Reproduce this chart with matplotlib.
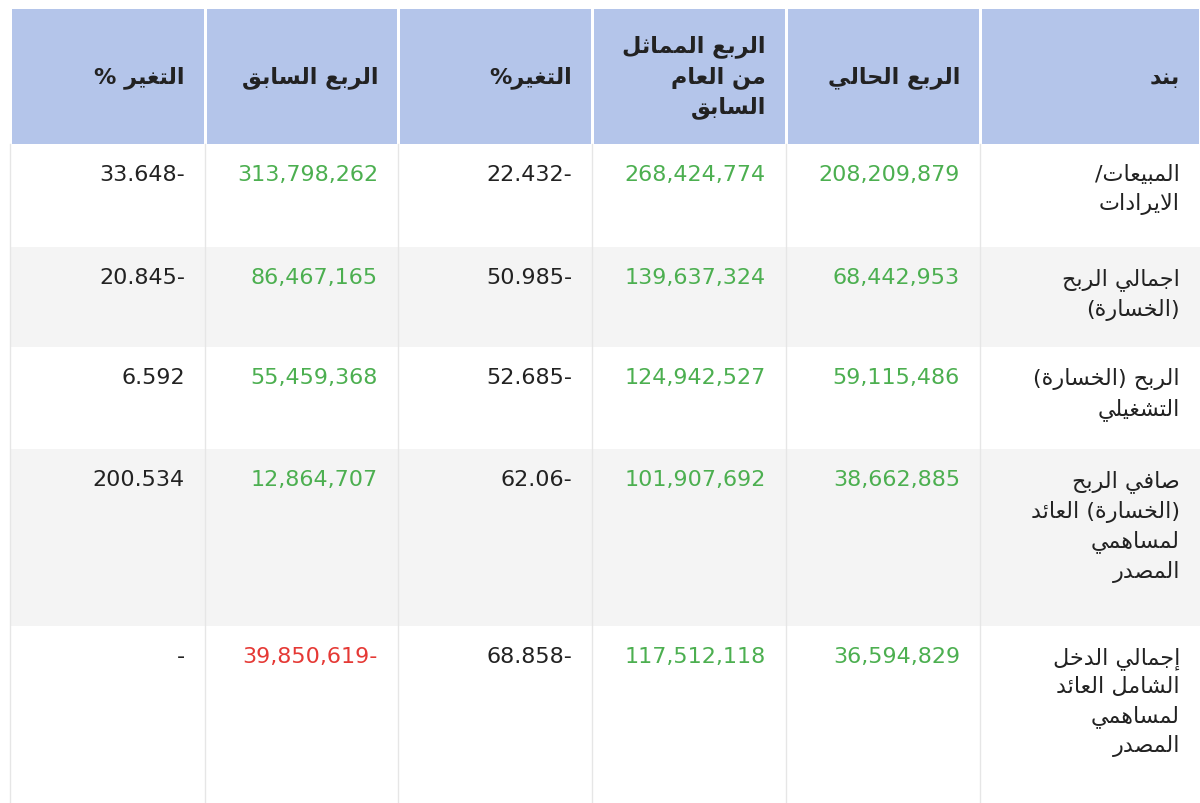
import matplotlib
matplotlib.use("Agg")
import matplotlib.pyplot as plt

# ---------------- data ----------------
headers = ["بند", "الربع الحالي", "الربع المماثل\nمن العام\nالسابق", "التغير%", "الربع السابق", "التغير %"]
items = ["المبيعات/\nالايرادات", "اجمالي الربح\n(الخسارة)", "الربح (الخسارة)\nالتشغيلي",
         "صافي الربح\n(الخسارة) العائد\nلمساهمي\nالمصدر", "إجمالي الدخل\nالشامل العائد\nلمساهمي\nالمصدر"]
current_q = ["208,209,879", "68,442,953", "59,115,486", "38,662,885", "36,594,829"]
same_q_last_year = ["268,424,774", "139,637,324", "124,942,527", "101,907,692", "117,512,118"]
change_yoy = ["22.432-", "50.985-", "52.685-", "62.06-", "68.858-"]
previous_q = ["313,798,262", "86,467,165", "55,459,368", "12,864,707", "39,850,619-"]
change_qoq = ["33.648-", "20.845-", "6.592", "200.534", "-"]

# ---------------- simple Arabic shaping ----------------
_base = [("\u0621",0xFE80,1),("\u0622",0xFE81,2),("\u0623",0xFE83,2),("\u0624",0xFE85,2),
         ("\u0625",0xFE87,2),("\u0626",0xFE89,4),("\u0627",0xFE8D,2),("\u0628",0xFE8F,4),
         ("\u0629",0xFE93,2),("\u062A",0xFE95,4),("\u062B",0xFE99,4),("\u062C",0xFE9D,4),
         ("\u062D",0xFEA1,4),("\u062E",0xFEA5,4),("\u062F",0xFEA9,2),("\u0630",0xFEAB,2),
         ("\u0631",0xFEAD,2),("\u0632",0xFEAF,2),("\u0633",0xFEB1,4),("\u0634",0xFEB5,4),
         ("\u0635",0xFEB9,4),("\u0636",0xFEBD,4),("\u0637",0xFEC1,4),("\u0638",0xFEC5,4),
         ("\u0639",0xFEC9,4),("\u063A",0xFECD,4),("\u0641",0xFED1,4),("\u0642",0xFED5,4),
         ("\u0643",0xFED9,4),("\u0644",0xFEDD,4),("\u0645",0xFEE1,4),("\u0646",0xFEE5,4),
         ("\u0647",0xFEE9,4),("\u0648",0xFEED,2),("\u0649",0xFEEF,2),("\u064A",0xFEF1,4)]
FORMS = {c: (s, n) for c, s, n in _base}
LAMALEF = {"\u0627": 0xFEFB, "\u0623": 0xFEF7, "\u0625": 0xFEF9, "\u0622": 0xFEF5}

def shape_line(s):
    # lam-alef ligatures first (tokens)
    toks = []
    i = 0
    while i < len(s):
        if s[i] == "\u0644" and i + 1 < len(s) and s[i+1] in LAMALEF:
            toks.append(("LA", s[i+1])); i += 2
        else:
            toks.append(("C", s[i])); i += 1
    def joins_next(t):
        if t[0] == "LA": return False
        return t[1] in FORMS and FORMS[t[1]][1] == 4
    def is_ar(t):
        return t[0] == "LA" or t[1] in FORMS
    out = []
    for k, t in enumerate(toks):
        prev_j = k > 0 and joins_next(toks[k-1])
        nxt = k + 1 < len(toks) and is_ar(toks[k+1])
        if t[0] == "LA":
            out.append(chr(LAMALEF[t[1]] + (1 if prev_j else 0)))
            continue
        c = t[1]
        if c not in FORMS:
            out.append({"(": ")", ")": "("}.get(c, c)); continue
        st, n = FORMS[c]
        nj = nxt and n == 4
        if n == 1: f = 0
        elif n == 2: f = 1 if prev_j else 0
        else:
            f = 3 if (prev_j and nj) else 1 if prev_j else 2 if nj else 0
        out.append(chr(st + f))
    return "".join(reversed(out))

def ar(s):
    return "\n".join(shape_line(l) for l in s.split("\n"))

# ---------------- layout ----------------
W, H = 1200, 804
fig = plt.figure(figsize=(12, 8.04), dpi=100)
ax = fig.add_axes([0, 0, 1, 1])
ax.set_xlim(0, W); ax.set_ylim(H, 0); ax.axis("off")

col_edges = [1200, 980, 786, 592, 398, 205, 10]  # right-to-left
row_edges = [145, 248, 348, 450, 627, 804]
hdr_top, hdr_bot = 10, 145
blue = "#b4c5ea"; green = "#4caf50"; red = "#e53935"; grey = "#f4f4f4"

# header
for j in range(6):
    r, l = col_edges[j], col_edges[j+1]
    ax.add_patch(plt.Rectangle((l + 1.5, hdr_top), r - l - 3, hdr_bot - hdr_top, color=blue, lw=0))
    ax.text(r - 20, (hdr_top + hdr_bot) / 2, ar(headers[j]), ha="right", va="center",
            multialignment="right", fontsize=16, fontweight="bold", color="#222222",
            family="DejaVu Sans", linespacing=1.45)

cols = [items, current_q, same_q_last_year, change_yoy, previous_q, change_qoq]
for i in range(5):
    top, bot = row_edges[i], row_edges[i+1]
    if i % 2 == 1:
        ax.add_patch(plt.Rectangle((10, top), 1190, bot - top, color=grey, lw=0))
    for j in range(6):
        r = col_edges[j]
        txt = cols[j][i]
        if j == 0:
            txt = ar(txt); color = "#222222"
        elif j in (1, 2, 4):
            color = red if txt.endswith("-") else green
        else:
            color = "#222222"
        ax.text(r - 20, top + 20, txt, ha="right", va="top", multialignment="right",
                fontsize=16, color=color, family="DejaVu Sans", linespacing=1.45)

for x in col_edges[1:]:
    ax.plot([x, x], [hdr_bot, H], color="#e6e6e6", lw=1)

fig.savefig("out.png", dpi=100, facecolor="white")
